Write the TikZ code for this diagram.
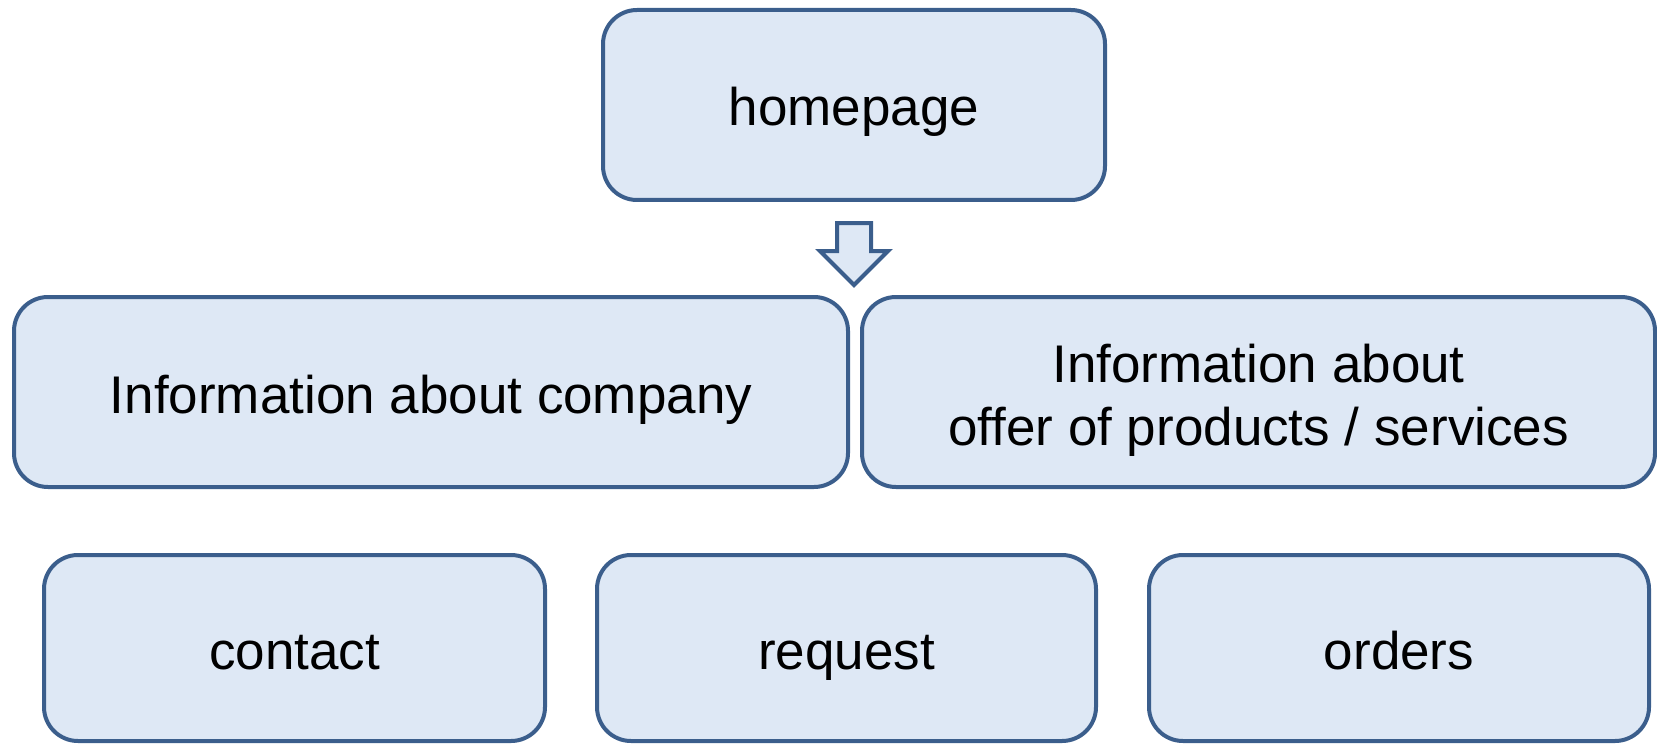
\documentclass[tikz,border=0pt]{standalone}
\usepackage{fontspec}
\setmainfont{Liberation Sans}
\usetikzlibrary{calc}
\definecolor{boxline}{RGB}{59,94,140}
\definecolor{boxfill}{RGB}{222,232,245}
\tikzset{
  pagebox/.style={draw=boxline, fill=boxfill, line width=2pt, rounded corners=17pt,
    align=center, inner sep=0pt, text height=25pt, text depth=4pt,
    font=\fontsize{26.5}{31.5}\selectfont},
  blockarrow/.style={draw=boxline, fill=boxfill, line width=2pt, line join=miter}
}
\begin{document}
\begin{tikzpicture}[x=0.5pt,y=-0.5pt]
\useasboundingbox (0,0) rectangle (1657,743);
\node[pagebox, minimum width=251pt, minimum height=95pt] (home) at (854,105) {homepage};
\node[pagebox, minimum width=417pt, minimum height=95pt] (company) at (431,392) {Information about company};
\node[pagebox, minimum width=396.5pt, minimum height=95pt, text height=60pt, text depth=7pt] (offer) at (1258.5,392) {Information about\\offer of products / services};
\node[pagebox, minimum width=250.5pt, minimum height=93pt] (contact) at (294.5,648) {contact};
\node[pagebox, minimum width=249.5pt, minimum height=93pt] (request) at (846.5,648) {request};
\node[pagebox, minimum width=250pt, minimum height=93pt] (orders) at (1399,648) {orders};
\coordinate (atip) at ($(home.south)+(0,83)$);
\draw[blockarrow] ($(home.south)+(-17,21)$) -- ($(home.south)+(17,21)$) -- ($(home.south)+(17,49)$)
  -- ($(home.south)+(34,49)$) -- (atip) -- ($(home.south)+(-34,49)$) -- ($(home.south)+(-17,49)$) -- cycle;
\end{tikzpicture}
\end{document}
